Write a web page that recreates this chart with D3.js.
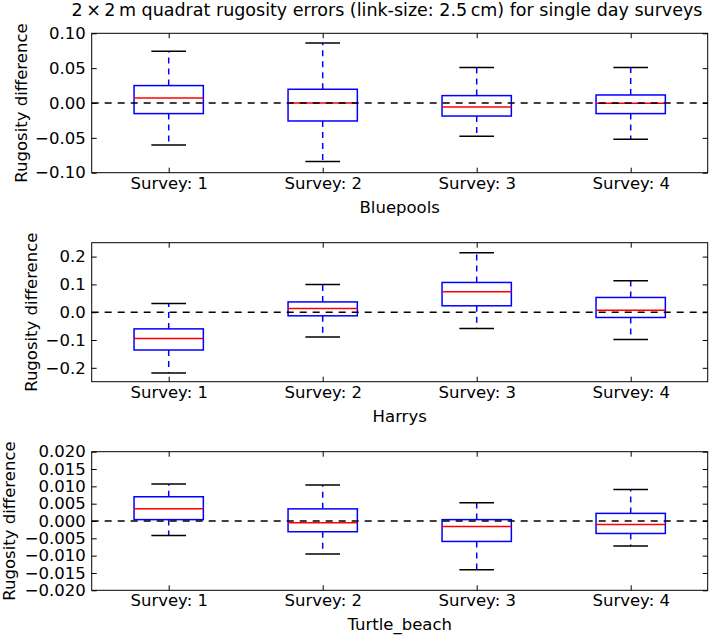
<!DOCTYPE html>
<html>
<head>
<meta charset="utf-8">
<script src="https://cdn.jsdelivr.net/npm/d3@7"></script>
<style>
  html, body { margin: 0; padding: 0; background: #fff; }
  svg text { font-family: "DejaVu Sans", sans-serif; fill: #000; }
</style>
</head>
<body>
<svg id="chart" width="709" height="636"></svg>
<script>
// ---- data ----
const categories = ["Survey: 1", "Survey: 2", "Survey: 3", "Survey: 4"];
const siteNames = ["Bluepools", "Harrys", "Turtle_beach"];
const titleText = "2\u2009\u00d7\u20092\u2009m quadrat rugosity errors (link-size: 2.5\u2009cm) for single day surveys";

// Bluepools
const bluepoolsLow  = [-0.0603, -0.0841, -0.0478, -0.0521];
const bluepoolsQ1   = [-0.0152, -0.0258, -0.0187, -0.0152];
const bluepoolsMed  = [ 0.0072,  0.0000, -0.0057, -0.0003];
const bluepoolsQ3   = [ 0.0250,  0.0197,  0.0106,  0.0115];
const bluepoolsHigh = [ 0.0742,  0.0861,  0.0508,  0.0508];
const bluepoolsTicks = [-0.10, -0.05, 0.00, 0.05, 0.10];

// Harrys
const harrysLow  = [-0.219, -0.089, -0.059, -0.098];
const harrysQ1   = [-0.136, -0.013,  0.023, -0.019];
const harrysMed  = [-0.095,  0.013,  0.074,  0.007];
const harrysQ3   = [-0.060,  0.037,  0.107,  0.053];
const harrysHigh = [ 0.031,  0.100,  0.214,  0.113];
const harrysTicks = [-0.2, -0.1, 0.0, 0.1, 0.2];

// Turtle_beach
const turtleLow  = [-0.0042, -0.0095, -0.0141, -0.0072];
const turtleQ1   = [ 0.0004, -0.0031, -0.0059, -0.0036];
const turtleMed  = [ 0.0035, -0.0005, -0.0016, -0.0010];
const turtleQ3   = [ 0.0070,  0.0035,  0.0004,  0.0022];
const turtleHigh = [ 0.0107,  0.0104,  0.0053,  0.0091];
const turtleTicks = [-0.020, -0.015, -0.010, -0.005, 0.000, 0.005, 0.010, 0.015, 0.020];

// ---- panel setup ----
const panels = [
  { name: siteNames[0], low: bluepoolsLow, q1: bluepoolsQ1, med: bluepoolsMed, q3: bluepoolsQ3, high: bluepoolsHigh,
    ticks: bluepoolsTicks, domain: [-0.10, 0.10], fmt: ".2f", top: 33.3, bottom: 172.7, ylabX: 21 },
  { name: siteNames[1], low: harrysLow, q1: harrysQ1, med: harrysMed, q3: harrysQ3, high: harrysHigh,
    ticks: harrysTicks, domain: [-0.25, 0.25], fmt: ".1f", top: 242.7, bottom: 381.7, ylabX: 31.5 },
  { name: siteNames[2], low: turtleLow, q1: turtleQ1, med: turtleMed, q3: turtleQ3, high: turtleHigh,
    ticks: turtleTicks, domain: [-0.020, 0.020], fmt: ".3f", top: 451.7, bottom: 590.3, ylabX: 9.5 }
];

const left = 91.7, right = 707.7;
const fontSize = 16.5;
const svg = d3.select("#chart");

svg.append("text")
  .attr("x", 387).attr("y", 16)
  .attr("text-anchor", "middle")
  .style("font-size", "17.5px")
  .text(titleText);

const x = d3.scaleLinear().domain([0.5, 4.5]).range([left, right]);
const boxW = 0.45, capW = 0.225;

panels.forEach(p => {
  const y = d3.scaleLinear().domain(p.domain).range([p.bottom, p.top]);
  const g = svg.append("g");
  const idx = d3.range(categories.length);

  // whiskers (blue dashed)
  g.selectAll("line.wlo").data(idx).join("line")
    .attr("x1", i => x(i + 1)).attr("x2", i => x(i + 1))
    .attr("y1", i => y(p.q1[i])).attr("y2", i => y(p.low[i]))
    .attr("stroke", "#0000ff").attr("stroke-width", 1.5).attr("stroke-dasharray", "6,5");
  g.selectAll("line.whi").data(idx).join("line")
    .attr("x1", i => x(i + 1)).attr("x2", i => x(i + 1))
    .attr("y1", i => y(p.q3[i])).attr("y2", i => y(p.high[i]))
    .attr("stroke", "#0000ff").attr("stroke-width", 1.5).attr("stroke-dasharray", "6,5");
  // caps (black)
  [p.low, p.high].forEach(arr => {
    g.append("g").selectAll("line").data(idx).join("line")
      .attr("x1", i => x(i + 1 - capW / 2)).attr("x2", i => x(i + 1 + capW / 2))
      .attr("y1", i => y(arr[i])).attr("y2", i => y(arr[i]))
      .attr("stroke", "#000").attr("stroke-width", 1.5);
  });
  // boxes
  g.append("g").selectAll("rect").data(idx).join("rect")
    .attr("x", i => x(i + 1 - boxW / 2)).attr("width", i => x(i + 1 + boxW / 2) - x(i + 1 - boxW / 2))
    .attr("y", i => y(p.q3[i])).attr("height", i => y(p.q1[i]) - y(p.q3[i]))
    .attr("fill", "none").attr("stroke", "#0000ff").attr("stroke-width", 1.5);
  // medians
  g.append("g").selectAll("line").data(idx).join("line")
    .attr("x1", i => x(i + 1 - boxW / 2)).attr("x2", i => x(i + 1 + boxW / 2))
    .attr("y1", i => y(p.med[i])).attr("y2", i => y(p.med[i]))
    .attr("stroke", "#ff0000").attr("stroke-width", 1.5);
  // zero reference line
  g.append("line")
    .attr("x1", left).attr("x2", right).attr("y1", y(0)).attr("y2", y(0))
    .attr("stroke", "#000").attr("stroke-width", 1.5).attr("stroke-dasharray", "7,6");

  // axes
  const yAxisL = d3.axisLeft(y).tickValues(p.ticks).tickFormat(d3.format(p.fmt)).tickSizeInner(-5).tickSizeOuter(0).tickPadding(6);
  const yAxisR = d3.axisRight(y).tickValues(p.ticks).tickFormat("").tickSizeInner(-5).tickSizeOuter(0);
  const xAxisB = d3.axisBottom(x).tickValues([1, 2, 3, 4]).tickFormat(d => categories[d - 1]).tickSizeInner(-5).tickSizeOuter(0).tickPadding(6);
  const xAxisT = d3.axisTop(x).tickValues([1, 2, 3, 4]).tickFormat("").tickSizeInner(-5).tickSizeOuter(0);

  const gl = svg.append("g").attr("transform", `translate(${left},0)`).call(yAxisL);
  const gr = svg.append("g").attr("transform", `translate(${right},0)`).call(yAxisR);
  const gb = svg.append("g").attr("transform", `translate(0,${p.bottom})`).call(xAxisB);
  const gt = svg.append("g").attr("transform", `translate(0,${p.top})`).call(xAxisT);
  [gl, gr, gb, gt].forEach(a => {
    a.select(".domain").remove();
    a.selectAll(".tick line").attr("stroke", "#000").attr("stroke-width", 1);
    a.selectAll("text").style("font-size", fontSize + "px").style("font-family", "DejaVu Sans");
  });
  gb.selectAll(".tick text").attr("dy", null).attr("y", 16).attr("dominant-baseline", "auto");

  // frame
  svg.append("rect")
    .attr("x", left).attr("y", p.top).attr("width", right - left).attr("height", p.bottom - p.top)
    .attr("fill", "none").attr("stroke", "#000").attr("stroke-width", 1);

  // labels
  svg.append("text")
    .attr("transform", `translate(${p.ylabX},${(p.top + p.bottom) / 2}) rotate(-90)`)
    .attr("text-anchor", "middle").attr("dominant-baseline", "central")
    .style("font-size", fontSize + "px")
    .text("Rugosity difference");
  svg.append("text")
    .attr("x", (left + right) / 2).attr("y", p.bottom + 40)
    .attr("text-anchor", "middle")
    .style("font-size", fontSize + "px")
    .text(p.name);
});
</script>
</body>
</html>
